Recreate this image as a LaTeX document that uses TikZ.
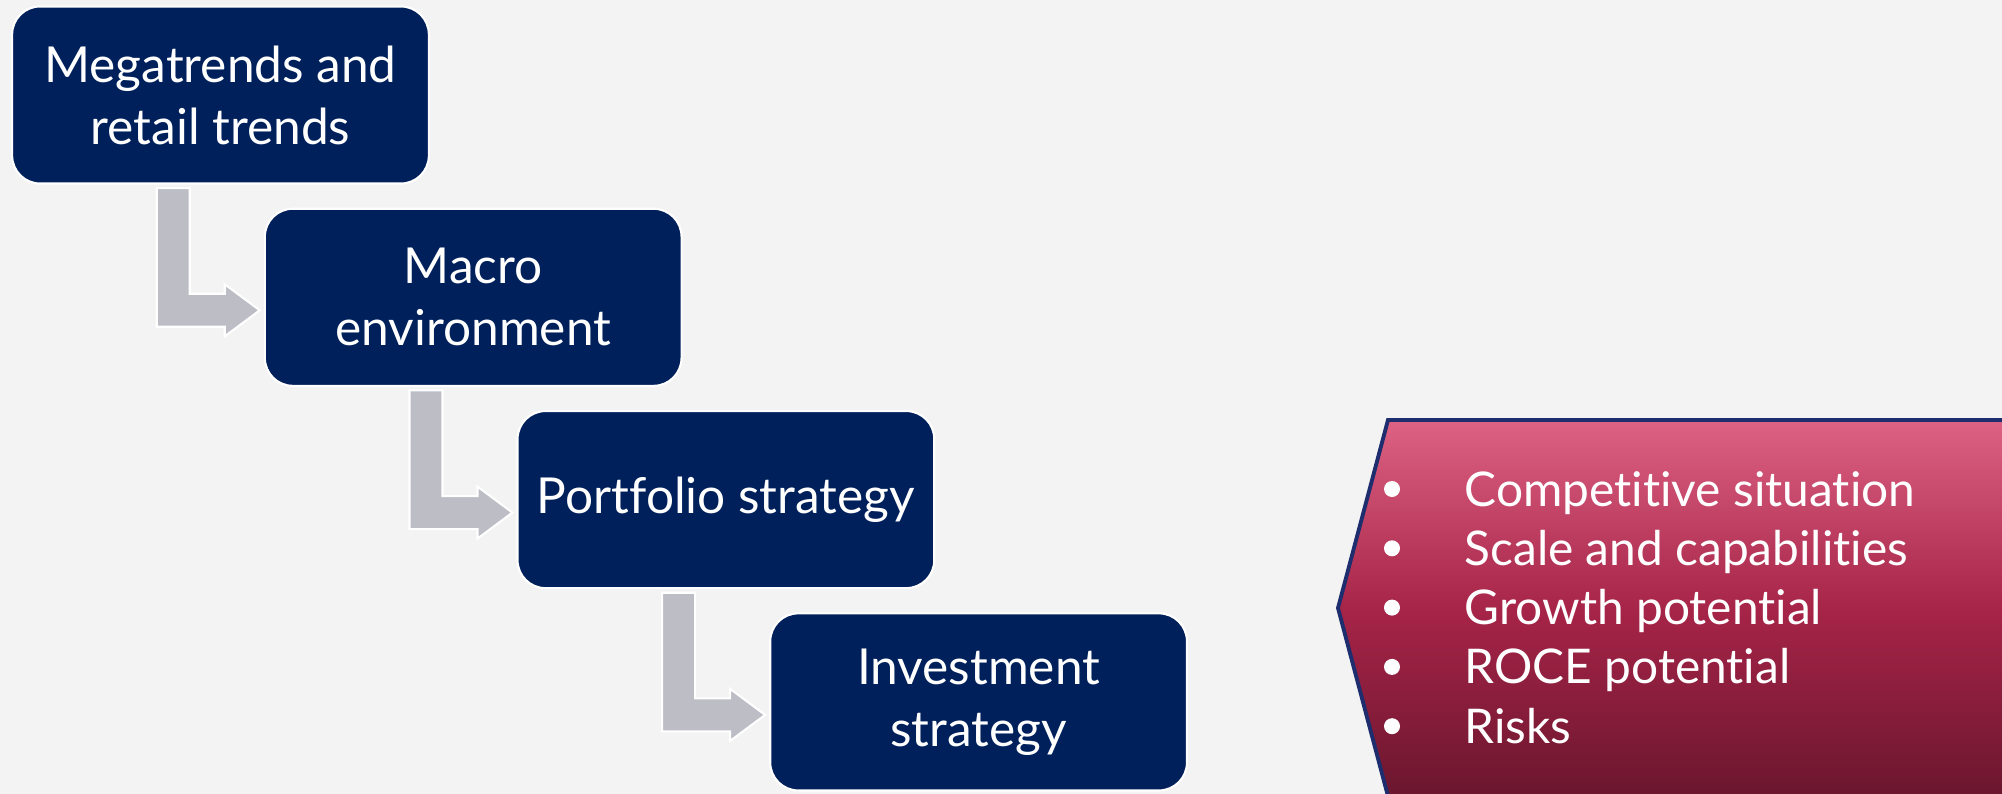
\documentclass[tikz,border=0pt]{standalone}
\usepackage{fontspec}
\setmainfont{Lato}[Ligatures={NoCommon,NoContextual}, RawFeature={-liga;-dlig;-clig}]
\usetikzlibrary{calc}

\definecolor{pagebg}{RGB}{243,243,243}
\definecolor{navy}{RGB}{0,32,91}
\definecolor{flowgray}{RGB}{188,189,197}
\definecolor{roseTop}{RGB}{221,98,131}
\definecolor{roseMid}{RGB}{166,36,72}
\definecolor{roseBot}{RGB}{106,22,46}
\definecolor{edgeblue}{RGB}{30,45,110}

\tikzset{
  stage/.style={draw=white, line width=0.6pt, fill=navy, rounded corners=0.28cm,
    minimum width=4.165cm, minimum height=1.77cm, text=white, align=center,
    font=\fontsize{14.1}{17.6}\selectfont, inner sep=0pt},
  flow/.style={fill=flowgray, draw=white, line width=0.6pt, line join=miter},
  item/.style={text=white, anchor=base west, inner sep=0pt,
    font=\fontsize{13.6}{18}\selectfont},
  dot/.style={circle, fill=white, minimum size=0.16cm, inner sep=0pt},
}

% L-shaped block arrow leaving the bottom of #1 and pointing at #2
\newcommand\flowarrow[3]{%
  \coordinate (tip#3) at ($(#2.west)+(-4,13)$);
  \coordinate (top#3) at ($(#1.south)+(0,3.5)$);
  \coordinate (bl#3) at ($(tip#3)+(-103,0)$);
  \coordinate (br#3) at ($(tip#3)+(-70,0)$);
  \draw[flow] (tip#3) -- ++(-35,-26) -- ++(0,9.5) -- ++(-35,0)
    -- (br#3 |- top#3) -- (bl#3 |- top#3)
    -- ($(tip#3)+(-103,16.5)$) -- ++(68,0) -- ++(0,9.5) -- cycle;
}

\begin{document}
\begin{tikzpicture}[x=0.01cm, y=-0.01cm]
  \fill[pagebg] (0,0) rectangle (2002,794);
  \useasboundingbox (0,0) rectangle (2002,794);

  % process stages, stepping down to the right
  \node[stage] (s1) at (220.5,95)  {Megatrends and\\retail trends};
  \node[stage] (s2) at (473.2,297.3) {Macro\\environment};
  \node[stage] (s3) at (725.9,499.6) {Portfolio strategy};
  \node[stage] (s4) at (978.6,701.9) {Investment\\strategy};

  \flowarrow{s1}{s2}{1}
  \flowarrow{s2}{s3}{2}
  \flowarrow{s3}{s4}{3}

  % assessment criteria panel
  \shade[top color=roseTop, bottom color=roseBot, middle color=roseMid]
    (1388,420) -- (2010,420) -- (2010,800) -- (1388,800) -- (1338,608) -- cycle;
  \draw[edgeblue, line width=1.1pt, line join=miter]
    (2010,420) -- (1388,420) -- (1338,608) -- (1389,800);

  \node[item] (c1) at (1464,506) {Competitive situation};
  \node[item] (c2) at (1464,565.3) {Scale and capabilities};
  \node[item] (c3) at (1464,624.6) {Growth potential};
  \node[item] (c4) at (1464,683.9) {ROCE potential};
  \node[item] (c5) at (1464,743.2) {Risks};

  \node[dot] (b1) at (1392,489) {};
  \node[dot] (b2) at (1392,548.3) {};
  \node[dot] (b3) at (1392,607.6) {};
  \node[dot] (b4) at (1392,666.9) {};
  \node[dot] (b5) at (1392,726.2) {};
\end{tikzpicture}
\end{document}
